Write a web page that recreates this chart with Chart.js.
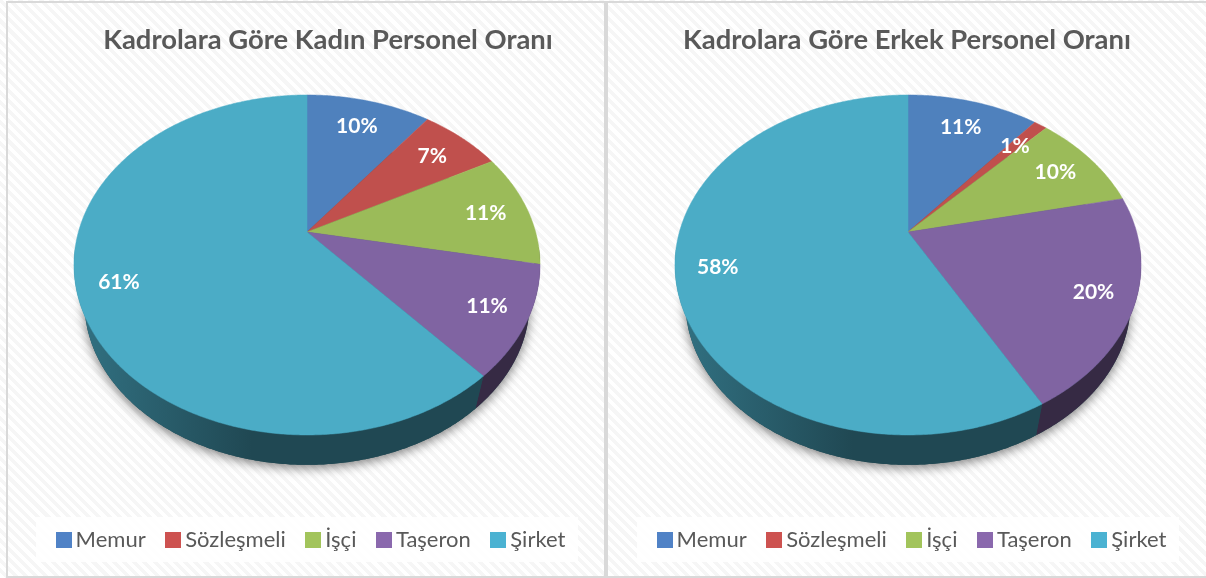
<!DOCTYPE html>
<html lang="tr">
<head>
<meta charset="utf-8">
<script src="https://cdn.jsdelivr.net/npm/chart.js@4"></script>
<style>
html,body{margin:0;padding:0;width:1206px;height:578px;overflow:hidden;background:#fff}
#stage{position:relative;width:1206px;height:578px;overflow:hidden;background:repeating-linear-gradient(45deg,#fff 0 3.6px,#f6f6f6 3.6px 7.2px)}
.frame{position:absolute;box-sizing:border-box;border:2px solid #d9d9d9;top:1px;height:577px}
.lbox{position:absolute;top:517px;height:45px;background:rgba(255,255,255,.82)}
canvas{position:absolute;top:0;left:0}
.wrap{position:absolute;top:0;height:578px}
</style>
</head>
<body>
<div id="stage">
  <div class="frame" style="left:6px;width:600px"></div>
  <div class="frame" style="left:606px;width:606px"></div>
  <div class="lbox" style="left:36px;width:542px"></div>
  <div class="lbox" style="left:637px;width:542px"></div>
  <div class="wrap" style="left:7px;width:600px"><canvas id="c1"></canvas></div>
  <div class="wrap" style="left:608px;width:598px"><canvas id="c2"></canvas></div>
</div>
<script>
const categories = ['Memur', 'Sözleşmeli', 'İşçi', 'Taşeron', 'Şirket'];
const kadinValues = [10.4, 6.8, 10.85, 10.5, 61.45];
const erkekValues = [11.0, 1.1, 9.5, 20.3, 58.1];
const kadinTitle = 'Kadrolara Göre Kadın Personel Oranı';
const erkekTitle = 'Kadrolara Göre Erkek Personel Oranı';
const sliceColors = ['#4f81bd', '#c0504d', '#9bbb59', '#8064a2', '#4bacc6'];
const legendColors = ['#5082c6', '#cd5250', '#a2c45b', '#8a68ad', '#4bb2d2'];

const FONT = 'Lato';
const TEXT = '#595959';
// perspective of the tilted disc
const P = -0.194, A = 163.6, B = 228.6, CY = 232, DEPTH_SCALE = 0.955, DEPTH_SHIFT = 39;

function rimTop(cx, th) {
  const u = Math.sin(th), v = -Math.cos(th), d = 1 + P * v;
  return [cx + B * u / d, CY + A * v / d];
}
function rimBottom(cx, th) {
  const [x, y] = rimTop(cx, th);
  return [cx + (x - cx) * DEPTH_SCALE, CY + (y - CY) * DEPTH_SCALE + DEPTH_SHIFT];
}
function shade(hex, k) {
  const n = parseInt(hex.slice(1), 16);
  return `rgb(${Math.round((n >> 16) * k)},${Math.round(((n >> 8) & 255) * k)},${Math.round((n & 255) * k)})`;
}
const STEP = Math.PI / 360;

const disc3d = {
  id: 'disc3d',
  afterLayout(chart, args, o) {
    chart.titleBlock.left += o.titleShift; chart.titleBlock.right += o.titleShift;
    chart.legend.left += o.legendShift; chart.legend.right += o.legendShift;
  },
  beforeDatasetsDraw(chart, args, o) {
    const ctx = chart.ctx, cx = o.cx;
    const arcs = chart.getDatasetMeta(0).data;
    const colors = chart.data.datasets[0].backgroundColor;
    const angle = a => a + Math.PI / 2;

    // soft shadow under the disc
    ctx.save();
    ctx.shadowColor = 'rgba(0,0,0,.5)'; ctx.shadowBlur = 11; ctx.shadowOffsetY = 3;
    ctx.fillStyle = '#1f4650';
    ctx.beginPath();
    for (let t = 0; t < Math.PI * 2; t += STEP) { const [x, y] = rimBottom(cx, t); ctx.lineTo(x, y); }
    ctx.closePath(); ctx.fill();
    ctx.restore();

    // side wall
    const wa = 95 * Math.PI / 180, wb = 265 * Math.PI / 180;
    arcs.forEach((el, i) => {
      const a = Math.max(angle(el.startAngle), wa), b = Math.min(angle(el.endAngle), wb);
      if (b <= a) return;
      const g = ctx.createLinearGradient(cx - 233, 0, cx - 55, 0);
      g.addColorStop(0, shade(colors[i], 0.66));
      g.addColorStop(1, shade(colors[i], 0.42));
      ctx.fillStyle = g;
      ctx.beginPath();
      for (let t = a; t < b; t += STEP) { const [x, y] = rimTop(cx, t); ctx.lineTo(x, y); }
      let p = rimTop(cx, b); ctx.lineTo(p[0], p[1]);
      p = rimBottom(cx, b); ctx.lineTo(p[0], p[1]);
      for (let t = b; t > a; t -= STEP) { const [x, y] = rimBottom(cx, t); ctx.lineTo(x, y); }
      p = rimBottom(cx, a); ctx.lineTo(p[0], p[1]);
      ctx.closePath(); ctx.fill();
    });

    // top face
    arcs.forEach((el, i) => {
      const a = angle(el.startAngle), b = angle(el.endAngle);
      ctx.fillStyle = colors[i]; ctx.strokeStyle = colors[i]; ctx.lineWidth = 0.5;
      ctx.beginPath();
      ctx.moveTo(cx, CY);
      for (let t = a; t < b; t += STEP) { const [x, y] = rimTop(cx, t); ctx.lineTo(x, y); }
      const p = rimTop(cx, b); ctx.lineTo(p[0], p[1]);
      ctx.closePath(); ctx.fill(); ctx.stroke();
    });

    // percentage labels
    const vals = chart.data.datasets[0].data;
    const total = vals.reduce((s, v) => s + v, 0);
    ctx.fillStyle = '#fff';
    ctx.font = `bold 21px ${FONT}`;
    ctx.textAlign = 'center'; ctx.textBaseline = 'middle';
    arcs.forEach((el, i) => {
      const m = (angle(el.startAngle) + angle(el.endAngle)) / 2;
      const r = 0.815 - 0.04 * Math.cos(m);
      const u = r * Math.sin(m), v = -r * Math.cos(m), d = 1 + P * v;
      ctx.fillText(Math.round(vals[i] / total * 100) + '%', cx + B * u / d, CY + A * v / d);
    });
    return false;
  }
};

function swatch(color) {
  const c = document.createElement('canvas');
  c.width = 16; c.height = 16;
  const x = c.getContext('2d'); x.fillStyle = color; x.fillRect(0, 0, 16, 16);
  return c;
}

function makeChart(id, w, values, title, cx, titleShift, legendShift) {
  const cv = document.getElementById(id);
  cv.width = w; cv.height = 578;
  cv.getContext('2d').letterSpacing = '1.3px';
  return new Chart(cv, {
    type: 'pie',
    data: { labels: categories, datasets: [{ data: values, backgroundColor: sliceColors, borderWidth: 0 }] },
    plugins: [disc3d],
    options: {
      responsive: false, animation: false,
      layout: { padding: { bottom: 17 } },
      plugins: {
        disc3d: { cx, titleShift, legendShift },
        tooltip: { enabled: false },
        title: { display: true, text: title, color: TEXT, font: { family: FONT, size: 27.4, weight: 'bold' }, padding: { top: 24, bottom: 0 } },
        legend: {
          position: 'bottom',
          labels: {
            color: TEXT, font: { family: FONT, size: 22 }, usePointStyle: true, pointStyleWidth: 2, padding: 26.5,
            generateLabels: () => categories.map((t, i) => ({
              text: t, fillStyle: legendColors[i], strokeStyle: legendColors[i], lineWidth: 0,
              pointStyle: swatch(legendColors[i]), hidden: false, index: i, fontColor: TEXT
            }))
          }
        }
      }
    }
  });
}
makeChart('c1', 600, kadinValues, kadinTitle, 300, 21, 7);
makeChart('c2', 598, erkekValues, erkekTitle, 300, 0, 8);
</script>
</body>
</html>
